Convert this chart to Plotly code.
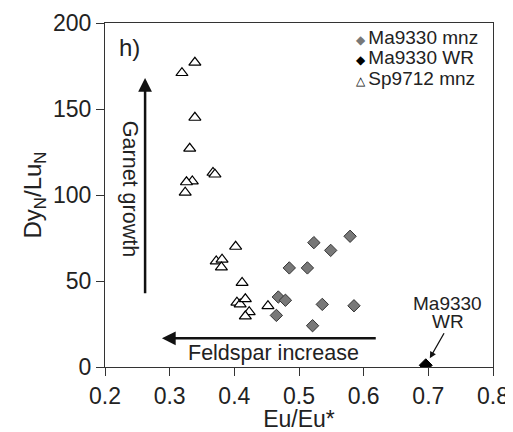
import plotly.graph_objects as go

# Sp9712 monazite (open triangles)
sp_x = [0.339, 0.319, 0.339, 0.331, 0.367, 0.370, 0.335, 0.326, 0.324, 0.402, 0.372,
        0.381, 0.380, 0.412, 0.404, 0.409, 0.417, 0.423, 0.417, 0.452]
sp_y = [177, 171, 145, 127, 113, 112, 108, 107.5, 101.5, 70, 61.5,
        62.5, 58, 49, 37.5, 36.5, 39.5, 32, 29.5, 35.5]

# Ma9330 monazite (grey diamonds)
ma_x = [0.523, 0.579, 0.549, 0.485, 0.513, 0.468, 0.479, 0.465, 0.536, 0.585, 0.521]
ma_y = [72.3, 76.0, 67.8, 57.6, 57.6, 40.7, 38.8, 30.0, 36.4, 35.6, 24.0]

# Ma9330 whole rock (black diamond)
wr_x = [0.696]
wr_y = [1.0]

x_ticks = [0.2, 0.3, 0.4, 0.5, 0.6, 0.7, 0.8]
x_tick_labels = ["0.2", "0.3", "0.4", "0.5", "0.6", "0.7", "0.8"]
y_ticks = [0, 50, 100, 150, 200]

legend_labels = ["Ma9330 mnz", "Ma9330 WR", "Sp9712 mnz"]

FONT = "Liberation Sans, Arial, sans-serif"
TXT = "#222222"

fig = go.Figure()
fig.add_trace(go.Scatter(x=ma_x, y=ma_y, mode="markers", name=legend_labels[0],
                         showlegend=False,
                         marker=dict(symbol="diamond", size=9.5, color="#787878",
                                     line=dict(color="#333333", width=1))))
fig.add_trace(go.Scatter(x=wr_x, y=wr_y, mode="markers", name=legend_labels[1],
                         showlegend=False,
                         marker=dict(symbol="diamond", size=10, color="#000000",
                                     line=dict(color="#000000", width=1))))
fig.add_trace(go.Scatter(x=sp_x, y=sp_y, mode="markers", name=legend_labels[2],
                         showlegend=False,
                         marker=dict(symbol="triangle-up", size=10.5, color="white",
                                     line=dict(color="#000000", width=1.2))))

sym = [
    "<span style='font-size:12px;color:#787878'>◆ </span>",
    "<span style='font-size:12px;color:#000000'>◆ </span>",
    "<span style='font-size:12px;color:#000000'>△ </span>",
]
leg_y = [0.959, 0.900, 0.840]

annotations = [
    dict(x=0.219, y=195, xref="x", yref="y", text="h)", showarrow=False,
         xanchor="left", yanchor="top", font=dict(size=24, color=TXT)),
    # Garnet growth arrow
    dict(x=0.262, y=168, ax=0.262, ay=42, xref="x", yref="y", axref="x", ayref="y",
         text="", showarrow=True, arrowhead=2, arrowsize=1.1, arrowwidth=2.5,
         arrowcolor="#111"),
    dict(x=0.2386, y=103.6, xref="x", yref="y", text="Garnet growth", showarrow=False,
         textangle=90, font=dict(size=21.5, color=TXT)),
    # Feldspar increase arrow
    dict(x=0.288, y=16.7, ax=0.621, ay=16.7, xref="x", yref="y", axref="x", ayref="y",
         text="", showarrow=True, arrowhead=2, arrowsize=1.1, arrowwidth=2.5,
         arrowcolor="#111"),
    dict(x=0.460, y=8.1, xref="x", yref="y", text="Feldspar increase", showarrow=False,
         font=dict(size=21.5, color=TXT)),
    # WR label
    dict(x=0.7023, y=5.1, ax=0.7256, ay=20.5, xref="x", yref="y", axref="x", ayref="y",
         text="", showarrow=True, arrowhead=2, arrowsize=1, arrowwidth=1.3,
         arrowcolor="#111"),
    dict(x=0.730, y=37.2, xref="x", yref="y", text="Ma9330", showarrow=False,
         font=dict(size=19, color=TXT)),
    dict(x=0.730, y=26.3, xref="x", yref="y", text="WR", showarrow=False,
         font=dict(size=19, color=TXT)),
]
for s, lab, yy in zip(sym, legend_labels, leg_y):
    annotations.append(dict(x=0.643, y=yy, xref="paper", yref="paper", text=s + lab,
                            showarrow=False, xanchor="left", yanchor="middle",
                            font=dict(size=19, color=TXT)))

# The page body has an 8px default margin; the figure is sized so that the
# plot occupies the same pixels as the 513x432 reference.
fig.update_layout(
    width=505, height=424,
    margin=dict(l=97, r=20, t=15, b=65, autoexpand=False),
    paper_bgcolor="white", plot_bgcolor="white",
    font=dict(family=FONT, color=TXT, size=19),
    showlegend=False,
    annotations=annotations,
)
fig.update_xaxes(range=[0.2, 0.8], tickvals=x_ticks, ticktext=x_tick_labels,
                 showline=True, linecolor="#333", linewidth=1, mirror=True,
                 ticks="outside", ticklen=8, tickcolor="#333", showgrid=False,
                 zeroline=False, tickfont=dict(size=23), automargin=False,
                 title=dict(text="Eu/Eu*", font=dict(size=23), standoff=6))
fig.update_yaxes(range=[0, 200], tickvals=y_ticks,
                 showline=True, linecolor="#333", linewidth=1, mirror=True,
                 ticks="outside", ticklen=8, tickcolor="#333", showgrid=False,
                 zeroline=False, tickfont=dict(size=23), automargin=False,
                 title=dict(text="Dy<sub>N</sub>/Lu<sub>N</sub>", font=dict(size=24), standoff=4))

fig.write_html("out.html")
